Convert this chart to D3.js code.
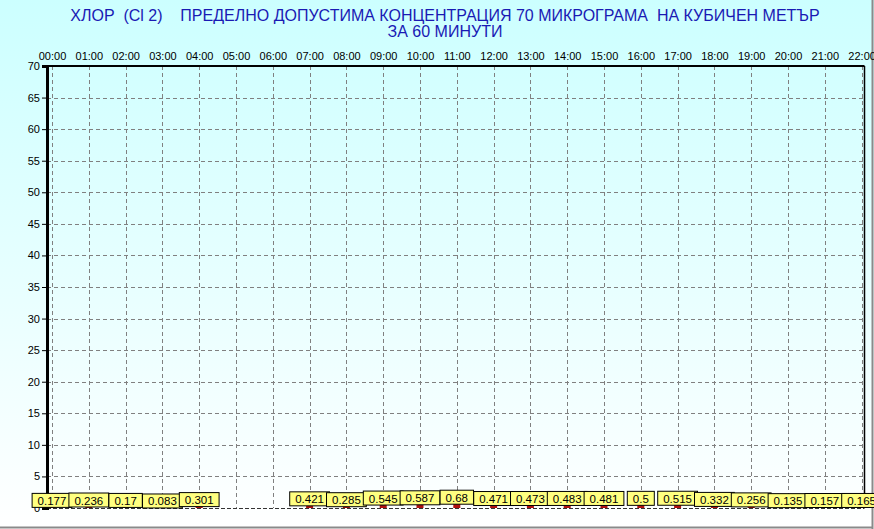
<!DOCTYPE html>
<html>
<head>
<meta charset="utf-8">
<script src="https://cdn.jsdelivr.net/npm/d3@7"></script>
<style>
  body { margin: 0; background: #fff; }
  svg { display: block; font-family: "Liberation Sans", Arial, sans-serif; }
</style>
</head>
<body>
<svg id="chart" width="874" height="529"></svg>
<script>
// hourly values, null = no measurement
let hours = ["00:00","01:00","02:00","03:00","04:00","05:00","06:00","07:00","08:00","09:00","10:00",
  "11:00","12:00","13:00","14:00","15:00","16:00","17:00","18:00","19:00","20:00","21:00","22:00"]
let values = [0.177, 0.236, 0.17, 0.083, 0.301, null, null, 0.421, 0.285, 0.545, 0.587,
  0.68, 0.471, 0.473, 0.483, 0.481, 0.5, 0.515, 0.332, 0.256, 0.135, 0.157, 0.165]
let yTicks = [0, 5, 10, 15, 20, 25, 30, 35, 40, 45, 50, 55, 60, 65, 70]
let titleLine1 = "ХЛОР  (Cl 2)    ПРЕДЕЛНО ДОПУСТИМА КОНЦЕНТРАЦИЯ 70 МИКРОГРАМА  НА КУБИЧЕН МЕТЪР"
let titleLine2 = "ЗА 60 МИНУТИ"

let svg = d3.select("#chart")
let W = 874, H = 529
let margin = {top: 66, right: 12, bottom: 21, left: 47}

//background gradient
let defs = svg.append("defs")
let grad = defs.append("linearGradient").attr("id", "bg")
  .attr("x1", 0).attr("y1", 0).attr("x2", 0).attr("y2", 1)
grad.append("stop").attr("offset", "0%").attr("stop-color", "#ccffff")
grad.append("stop").attr("offset", "100%").attr("stop-color", "#ffffff")
svg.append("rect").attr("width", W).attr("height", H).attr("fill", "url(#bg)")

//frame lines at bottom and right
svg.append("line").attr("x1", 0).attr("x2", 873).attr("y1", 527.5).attr("y2", 527.5)
  .attr("stroke", "#8a8a8a").attr("stroke-width", 2)
svg.append("line").attr("x1", 872.5).attr("x2", 872.5).attr("y1", 0).attr("y2", 529)
  .attr("stroke", "#8a8a8a").attr("stroke-width", 2)

let data = hours.map((h, i) => ({hour: i, label: h, value: values[i]}))

//scales
let x = d3.scaleLinear().domain([0, 22]).range([52, 861.6])
let y = d3.scaleLinear().domain([0, 70]).range([508, 66])

//gridlines
svg.append("g").selectAll("line.h")
  .data(yTicks.filter(d => d > 0 && d < 70))
  .enter().append("line")
  .attr("x1", margin.left).attr("x2", 864)
  .attr("y1", d => Math.round(y(d)) + 0.5).attr("y2", d => Math.round(y(d)) + 0.5)
  .attr("stroke", "#808080").attr("stroke-dasharray", "4,3")

svg.append("g").selectAll("line.v")
  .data(data)
  .enter().append("line")
  .attr("x1", d => Math.round(x(d.hour)) + 0.5).attr("x2", d => Math.round(x(d.hour)) + 0.5)
  .attr("y1", y(70)).attr("y2", y(0))
  .attr("stroke", "#808080").attr("stroke-dasharray", "4,3")

//plot frame
svg.append("line").attr("x1", margin.left).attr("x2", 864.5).attr("y1", y(70)).attr("y2", y(70))
  .attr("stroke", "#000").attr("stroke-width", 2)
svg.append("line").attr("x1", 864.5).attr("x2", 864.5).attr("y1", y(70)).attr("y2", y(0))
  .attr("stroke", "#000").attr("stroke-width", 1.5)
svg.append("line").attr("x1", margin.left).attr("x2", 864.5).attr("y1", y(0) + 0.5).attr("y2", y(0) + 0.5)
  .attr("stroke", "#333").attr("stroke-dasharray", "4,2")

//y axis
let yAxis = svg.append("g")
  .attr("transform", "translate(" + margin.left + ",0)")
  .call(d3.axisLeft(y).tickValues(yTicks).tickSize(5).tickPadding(2))
yAxis.select(".domain").attr("stroke", "#000").attr("stroke-width", 3)
yAxis.selectAll("text").attr("font-size", 11).attr("fill", "#000")
  .attr("font-family", "Liberation Sans, Arial, sans-serif")

//x axis labels at top
let xAxis = svg.append("g")
  .attr("transform", "translate(0," + 60 + ")")
  .call(d3.axisTop(x).tickValues(data.map(d => d.hour)).tickFormat(i => hours[i]).tickSize(0).tickPadding(0))
xAxis.select(".domain").remove()
xAxis.selectAll("text").attr("font-size", 11).attr("fill", "#000")
  .attr("font-family", "Liberation Sans, Arial, sans-serif")

let measured = data.filter(d => d.value !== null)

//bars
svg.append("g").selectAll("rect")
  .data(measured)
  .enter().append("rect")
  .attr("x", d => x(d.hour) - 3.5)
  .attr("width", 7)
  .attr("y", d => y(d.value))
  .attr("height", d => y(0) - y(d.value))
  .attr("fill", "#b01010")

//value labels
let labels = svg.append("g").selectAll("g")
  .data(measured)
  .enter().append("g")
  .attr("transform", d => "translate(" + x(d.hour) + "," + (y(d.value) + 1) + ")")

labels.append("text")
  .attr("text-anchor", "middle")
  .attr("y", -3)
  .attr("font-size", 11.5)
  .attr("fill", "#000")
  .text(d => d.value)

labels.each(function() {
  let g = d3.select(this)
  let bb = g.select("text").node().getBBox()
  g.insert("rect", "text")
    .attr("x", bb.x - 5.5).attr("width", bb.width + 11)
    .attr("y", -14.5).attr("height", 14)
    .attr("fill", "#ffff80").attr("stroke", "#000").attr("stroke-width", 1)
})

//title
svg.append("text").attr("x", 445).attr("y", 21).attr("text-anchor", "middle")
  .attr("font-size", 16).attr("fill", "#1a1ab4").style("white-space", "pre")
  .text(titleLine1)
svg.append("text").attr("x", 445).attr("y", 37).attr("text-anchor", "middle")
  .attr("font-size", 16).attr("fill", "#1a1ab4")
  .text(titleLine2)
</script>
</body>
</html>
